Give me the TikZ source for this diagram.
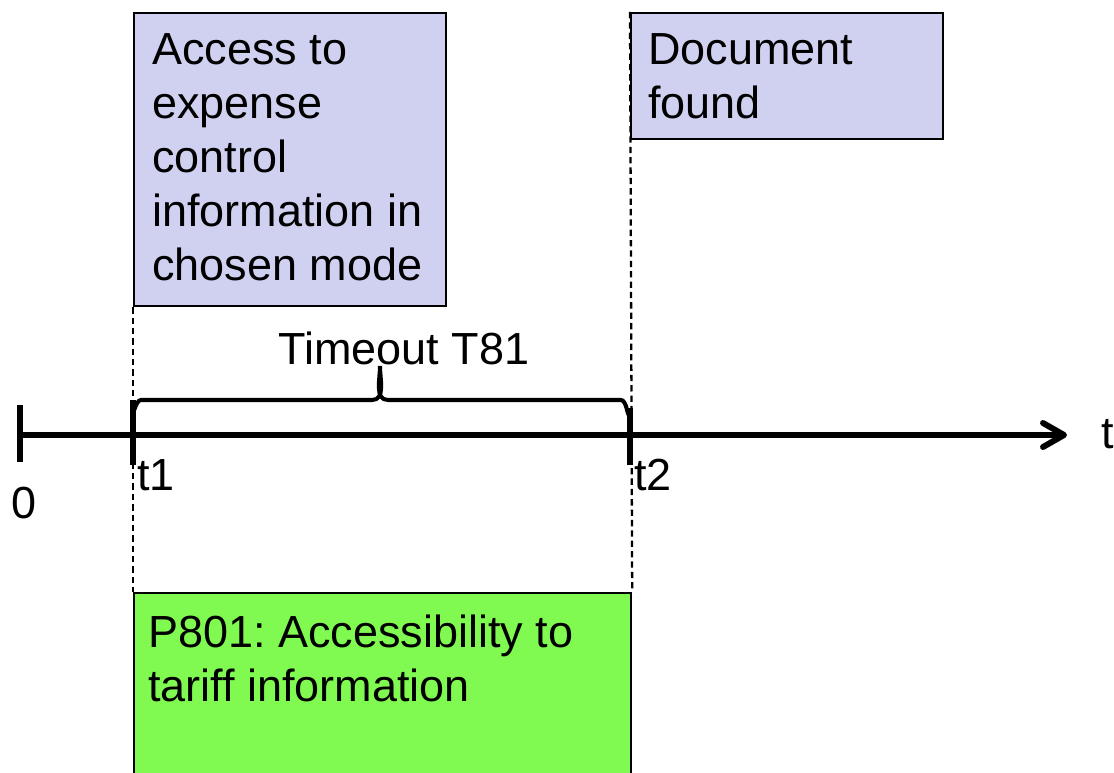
\documentclass[tikz,border=0pt]{standalone}
\usepackage{fontspec}
\setmainfont{Liberation Sans}
\usetikzlibrary{arrows.meta}
\frenchspacing
\definecolor{lilac}{RGB}{208,208,240}
\definecolor{lime}{RGB}{128,250,80}
\tikzset{
  lbl/.style={font=\fontsize{25.6}{30.7}\selectfont, inner sep=0pt},
  phase/.style={draw=black, line width=1.3pt, anchor=north west, inner sep=0pt},
  guide/.style={line width=1.3pt, dash pattern=on 3.6pt off 2.3pt},
  axis/.style={line width=3.4pt},
  tick/.style={line width=3.4pt},
  brace/.style={line width=2.3pt}
}
\begin{document}
\begin{tikzpicture}[x=0.02cm,y=-0.02cm]
\useasboundingbox (0,0) rectangle (1114,773);
\clip (0,0) rectangle (1114,773);
\node[phase, fill=lilac, minimum width=6.24cm, minimum height=5.86cm] (access) at (133,12) {};
\node[phase, fill=lilac, minimum width=6.24cm, minimum height=2.52cm] (found) at (630,12) {};
\node[phase, fill=lime, minimum width=9.94cm, minimum height=5cm] (p801) at (133,592) {};
\node[lbl, anchor=north west, align=left] (accesstxt) at (152,33) {Access to\\expense\\control\\information in\\chosen mode};
\node[lbl, anchor=north west, align=left] (foundtxt) at (648,33) {Document\\found};
\node[lbl, anchor=north west, align=left] (p801txt) at (148,615) {P801: Accessibility to\\tariff information};
\draw[guide] (access.south west) -- (p801.north west);
\draw[guide] (found.north west) -- (p801.north east);
\coordinate (zero) at (20,435);
\coordinate (tone) at (133,435);
\coordinate (ttwo) at (630,435);
\coordinate (tend) at (1067,435);
\draw[axis, -{Straight Barb[length=0.42cm, width=0.48cm, round]}] (zero) -- (tend);
\draw[tick] (zero) ++(0,-30) -- ++(0,57);
\draw[tick] (tone) ++(0,-35) -- ++(0,65);
\draw[tick] (ttwo) ++(0,-27) -- ++(0,57);
\node[lbl, anchor=base west] (zerolbl) at (11,518) {0};
\node[lbl, anchor=base west] (tonelbl) at (137,490) {t1};
\node[lbl, anchor=base west] (ttwolbl) at (634,490) {t2};
\node[lbl, anchor=base west] (tlbl) at (1101,448) {t};
\draw[brace] (tone) ++(0,-23) to[out=-90,in=180] ++(8,-12) -- (372,400) to[out=0,in=-90] (380,366) to[out=-90,in=180] (388,400) -- (621,400) to[out=0,in=-90] (628,412);
\node[lbl, anchor=base] (timeout) at (404,364) {Timeout T81};
\end{tikzpicture}
\end{document}
